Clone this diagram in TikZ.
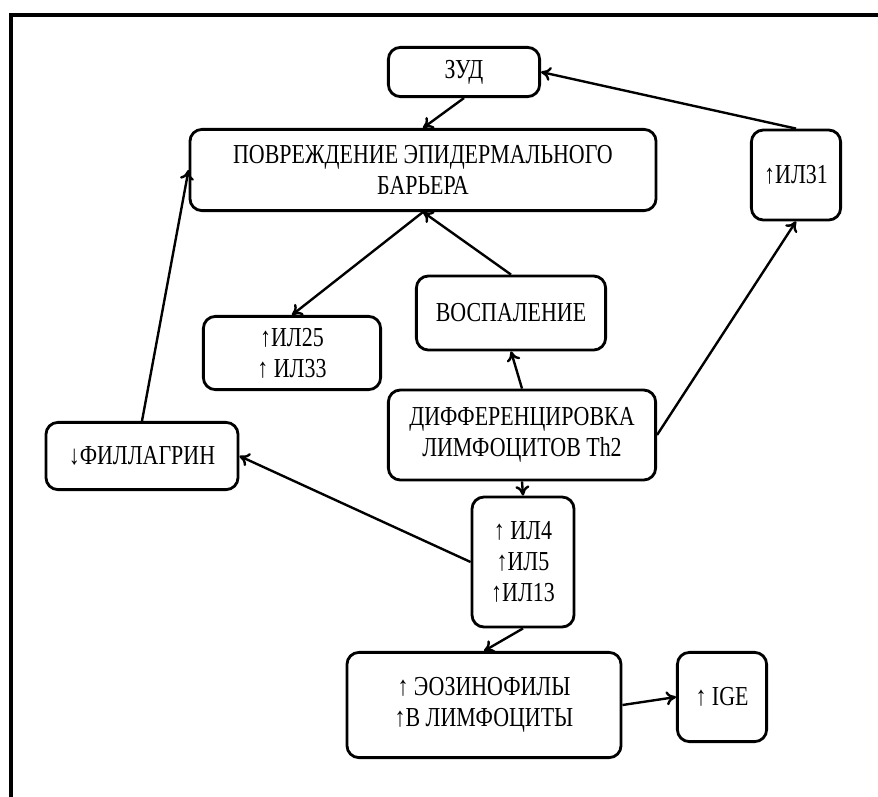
\documentclass[tikz,border=0pt]{standalone}
\usepackage{fontspec}
\setmainfont{Liberation Serif}[FakeStretch=0.8]
\usepackage{tikz}
\usetikzlibrary{arrows,arrows.meta,positioning}

\begin{document}
\begin{tikzpicture}[x=0.025cm,y=-0.025cm,
  box/.style={rectangle,rounded corners=0.3cm,draw=black,line width=2pt,inner sep=0pt,align=center,font=\fontsize{19.5}{22}\selectfont},
  link/.style={-{To[length=7pt,width=10pt]},line width=1.7pt}]
\useasboundingbox (0,0) rectangle (878,796);
\draw[line width=2.8pt] (11,800) -- (11,15) -- (882,15);
\node at (464,72)[box,minimum width=3.78cm,minimum height=1.23cm](zud){ЗУД};
\node at (423,170)[box,minimum width=11.65cm,minimum height=2.03cm](damage){ПОВРЕЖДЕНИЕ ЭПИДЕРМАЛЬНОГО\\БАРЬЕРА};
\node at (796,175)[box,minimum width=2.23cm,minimum height=2.25cm](il31){↑ИЛ31};
\node at (292,353)[box,minimum width=4.43cm,minimum height=1.83cm](il25){↑ИЛ25\\↑ ИЛ33};
\node at (511,313)[box,minimum width=4.73cm,minimum height=1.85cm](infl){ВОСПАЛЕНИЕ};
\node at (522,435)[box,minimum width=6.68cm,minimum height=2.25cm](diff){ДИФФЕРЕНЦИРОВКА\\ЛИМФОЦИТОВ Th2};
\node at (142,456)[box,minimum width=4.8cm,minimum height=1.68cm](fil){↓ФИЛЛАГРИН};
\node at (523,562)[box,minimum width=2.55cm,minimum height=3.25cm](il4){↑ ИЛ4\\↑ИЛ5\\↑ИЛ13};
\node at (484,705)[box,minimum width=6.85cm,minimum height=2.63cm](eos){↑ ЭОЗИНОФИЛЫ\\↑В ЛИМФОЦИТЫ};
\node at (722,697)[box,minimum width=2.23cm,minimum height=2.23cm](ige){↑ IGE};
\draw[link] (il31.north) -- (zud.east);
\draw[link] (zud.south) -- (damage.north);
\draw[link] (infl.north) -- (damage.south);
\draw[link] (damage.south) -- (il25.north);
\draw[link] (diff.north) -- (infl.south);
\draw[link] (diff.east) -- (il31.south);
\draw[link] (diff.south) -- (il4.north);
\draw[link] (il4.west) -- (fil.east);
\draw[link] (fil.north) -- (damage.west);
\draw[link] (il4.south) -- (eos.north);
\draw[link] (eos.east) -- (ige.west);
\end{tikzpicture}
\end{document}
